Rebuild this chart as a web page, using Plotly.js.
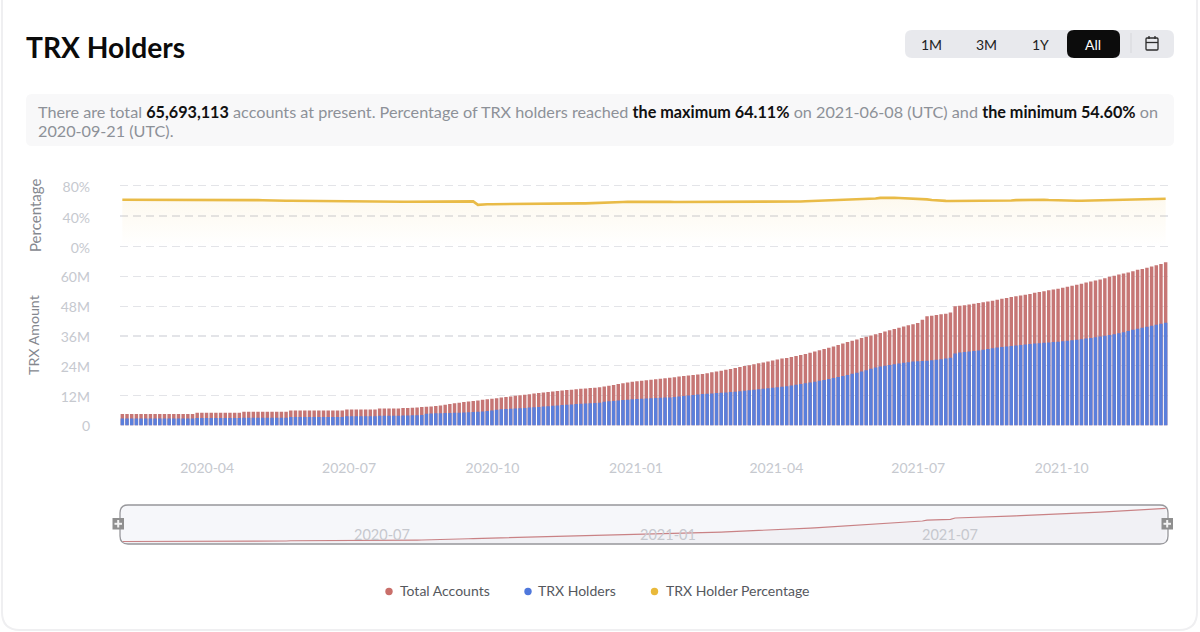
<!DOCTYPE html>
<html><head><meta charset="utf-8">
<script src="https://cdn.plot.ly/plotly-3.0.1.min.js"></script>
<style>html,body{margin:0;padding:0;background:#fff;overflow:hidden}#c{width:1200px;height:632px}</style>
</head><body><div id="c"></div>
<script>
const firstDate = '2020-02-06';
const stepDays = 3;
const totalAccounts = [
4.6,4.6,4.6,4.6,4.6,4.6,4.6,4.6,4.6,4.6,4.6,4.6,4.6,4.6,4.6,4.6,
5.1,5.1,5.1,5.1,5.1,5.1,5.1,5.1,5.1,5.1,
5.5,5.5,5.5,5.5,5.5,5.5,5.5,5.5,5.5,5.5,
6.0,6.0,6.0,6.0,6.0,6.0,6.0,6.0,6.0,6.0,6.0,6.0,
6.4,6.4,6.4,6.4,6.4,6.4,6.4,
6.8,6.8,6.8,6.8,6.8,
7.0,7.0,7.1,7.2,7.4,7.5,7.6,7.8,
8.0,8.3,8.6,8.9,9.2,9.5,
9.7,9.9,10.1,10.4,
10.6,10.8,11.0,11.3,
11.5,11.7,12.0,12.2,12.4,12.6,12.9,
13.1,13.3,13.5,13.7,13.9,14.1,14.3,
14.4,14.6,14.8,14.9,15.1,15.2,15.4,
15.7,16.0,16.3,16.7,17.0,17.3,17.6,
17.8,18.0,18.2,18.4,18.6,18.8,19.0,
19.2,19.4,19.7,19.9,20.1,20.3,20.5,20.7,
21.0,21.4,21.7,22.0,22.4,22.7,23.1,
23.5,23.9,24.2,24.6,25.0,25.3,25.7,
26.1,26.5,26.9,27.2,27.6,28.0,28.4,
28.8,29.3,29.8,30.3,30.8,31.3,31.8,
32.4,33.0,33.6,34.1,34.6,35.2,35.7,36.2,
36.7,37.2,37.8,38.3,38.8,39.3,39.8,40.3,40.7,
41.2,42.5,43.9,
44.1,44.4,44.7,45.0,45.5,
48.0,
48.2,48.4,48.7,49.0,49.3,49.6,49.9,50.2,50.6,
51.0,
51.3,51.7,52.0,52.3,52.6,52.9,53.4,
53.7,54.0,54.4,54.7,55.0,55.4,55.8,
56.2,56.6,57.0,57.5,57.9,58.3,58.7,
59.2,59.8,60.2,60.7,61.1,61.5,62.0,
62.6,63.0,63.5,64.0,64.5,65.0,65.69];
const trxHolders = [
2.8,2.8,2.8,2.8,2.8,2.8,2.8,2.8,2.8,2.8,2.8,2.8,2.8,2.8,2.8,2.8,
3.0,3.0,3.0,3.0,3.0,3.0,3.0,3.0,3.0,3.0,
3.1,3.1,3.1,3.1,3.1,3.1,3.1,3.1,3.1,3.1,
3.4,3.4,3.4,3.4,3.4,3.4,3.4,3.4,3.4,3.4,3.4,3.4,
3.7,3.7,3.7,3.7,3.7,3.7,3.7,
3.9,3.9,3.9,3.9,3.9,
4.0,4.0,4.1,4.1,4.2,4.7,4.8,4.9,
4.9,5.0,5.0,5.1,5.1,5.2,5.3,
5.4,5.5,5.6,5.8,6.0,6.3,6.5,
6.6,6.7,6.8,6.9,7.0,7.2,7.3,
7.4,7.6,7.7,7.9,8.0,8.2,8.3,
8.4,8.6,8.7,8.8,9.0,9.1,9.2,
9.6,9.8,9.9,10.1,10.3,10.4,10.6,
10.7,10.8,10.9,11.0,11.1,11.2,11.3,
11.3,11.5,11.7,11.9,12.1,12.3,12.5,12.7,
12.8,12.9,13.1,13.2,13.3,13.5,13.6,
13.8,14.0,14.2,14.4,14.6,14.8,15.0,
15.2,15.4,15.6,15.8,16.1,16.4,16.7,
17.0,17.3,17.6,18.0,18.3,18.7,19.1,
19.5,19.9,20.3,20.8,21.2,21.7,22.2,22.8,
23.3,23.7,24.0,24.3,24.6,24.9,25.2,25.4,25.7,
25.8,25.9,26.0,
26.2,26.4,26.6,26.9,27.3,
29.0,
29.4,29.6,29.8,30.0,30.2,30.5,30.8,31.1,31.4,
31.6,
31.8,32.0,32.2,32.4,32.6,32.8,33.0,
33.1,33.3,33.4,33.6,33.7,33.9,34.1,
34.3,34.5,34.7,35.0,35.2,35.5,35.8,
36.1,36.4,36.7,37.1,37.5,38.0,38.5,
38.9,39.3,39.7,40.1,40.5,40.9,41.3];
const holderPercent = [
61.4,61.4,61.4,61.3,61.3,61.3,61.3,61.2,61.2,61.2,61.2,61.1,61.1,61.1,61.0,61.0,61.0,61.0,60.9,60.9,60.9,61.0,61.1,61.3,61.5,
61.6,61.4,61.2,61.0,60.8,60.6,60.3,60.1,60.2,60.1,60.0,
60.0,59.9,59.9,59.8,59.8,59.7,59.7,59.6,59.6,59.5,59.4,59.4,
59.3,59.3,59.2,59.1,59.0,59.0,58.9,58.9,58.9,58.8,58.8,58.8,
58.7,58.7,58.8,58.9,59.0,59.1,59.2,59.3,59.2,59.1,59.0,58.9,58.9,59.0,59.1,59.2,
54.6,
55.3,55.4,55.5,55.6,55.6,55.7,55.8,55.8,55.9,56.0,56.0,56.0,56.1,56.1,
56.2,56.2,56.3,56.3,56.4,56.4,56.5,56.5,56.6,56.7,56.8,57.0,
57.3,57.6,57.9,58.2,58.4,58.6,58.7,58.8,
58.9,59.0,59.0,59.0,58.9,58.7,58.5,58.4,58.4,58.4,58.4,58.4,58.5,58.5,
58.5,58.5,58.4,58.4,58.3,58.2,58.2,58.2,58.2,58.2,58.3,58.3,58.4,58.5,
58.6,58.7,58.8,58.9,59.0,59.0,59.1,59.3,59.5,59.7,59.9,60.1,60.3,60.5,
60.7,60.9,61.1,61.3,61.5,61.7,61.9,62.2,62.9,63.8,64.11,64.0,63.8,63.6,63.4,63.2,63.1,
63.0,62.5,61.8,61.0,60.4,60.0,59.8,59.6,59.6,
59.6,59.5,59.5,59.6,59.8,60.0,60.1,60.2,60.3,60.3,60.4,60.4,
60.8,61.0,61.1,61.2,61.3,61.5,61.3,61.0,60.7,60.4,
60.2,60.0,60.0,60.1,60.1,60.2,60.3,60.4,60.5,60.6,60.8,60.9,
61.0,61.2,61.3,61.5,61.7,61.9,62.0,62.2,62.4,62.5,62.7];
const amountTicks = [0,12,24,36,48,60];
const amountLabels = ['0','12M','24M','36M','48M','60M'];
const percentTicks = [0,40,80];
const percentLabels = ['0%','40%','80%'];
const sliderLabels = ['2020-07','2021-01','2021-07'];
const rangeLabels = ['1M','3M','1Y','All'];
const seriesNames = ['Total Accounts','TRX Holders','TRX Holder Percentage'];

const RED='#c67675', BLUE='#5a7fdc', GOLD='#e9bb47', FONT='Lato, sans-serif';
const W=1200,H=632, fx=x=>x/W, fy=y=>1-y/H;
const dates = totalAccounts.map((_,i)=>new Date(Date.parse(firstDate+'T00:00:00Z')+i*stepDays*864e5).toISOString().slice(0,10));

function rr(x0,y0,x1,y1,r){
  const p=(x,y)=>fx(x)+','+fy(y);
  return 'M'+p(x0+r,y0)+'L'+p(x1-r,y0)+'Q'+p(x1,y0)+' '+p(x1,y0+r)+'L'+p(x1,y1-r)+'Q'+p(x1,y1)+' '+p(x1-r,y1)+
         'L'+p(x0+r,y1)+'Q'+p(x0,y1)+' '+p(x0,y1-r)+'L'+p(x0,y0+r)+'Q'+p(x0,y0)+' '+p(x0+r,y0)+'Z';
}
function box(x0,y0,x1,y1,r,fill,line,lw,layer){
  return {type:'path',xref:'paper',yref:'paper',path:rr(x0,y0,x1,y1,r),fillcolor:fill,line:{color:line||'rgba(0,0,0,0)',width:lw||0},layer:layer||'below'};
}
function seg(x0,y0,x1,y1,c,w){
  return {type:'line',xref:'paper',yref:'paper',x0:fx(x0),x1:fx(x1),y0:fy(y0),y1:fy(y1),line:{color:c,width:w},layer:'above'};
}
function dot(x,y,c){
  return {type:'circle',xref:'paper',yref:'paper',x0:fx(x-3.7),x1:fx(x+3.7),y0:fy(y+3.7),y1:fy(y-3.7),fillcolor:c,line:{width:0},layer:'above'};
}
function note(x,y,text,size,color,extra){
  return Object.assign({xref:'paper',yref:'paper',x:fx(x),y:fy(y),text,showarrow:false,font:{family:FONT,size,color},xanchor:'center',yanchor:'middle',borderpad:0},extra||{});
}
const B=t=>'<b style="color:#111">'+t+'</b>';

const traces=[
 {type:'bar',x:dates,y:totalAccounts,name:seriesNames[0],marker:{color:RED,line:{width:0}},xaxis:'x',yaxis:'y'},
 {type:'bar',x:dates,y:trxHolders,name:seriesNames[1],marker:{color:BLUE,line:{width:0}},xaxis:'x',yaxis:'y'},
 {type:'scatter',mode:'lines',x:dates,y:holderPercent,name:seriesNames[2],line:{color:GOLD,width:2.6},xaxis:'x',yaxis:'y2',
  fill:'tozeroy',fillgradient:{type:'vertical',start:60,stop:0,colorscale:[[0,'rgba(235,185,62,0.08)'],[1,'rgba(235,185,62,0.0)']]}},
 {type:'scatter',mode:'lines',x:dates,y:totalAccounts,line:{color:'#c98285',width:1.2},fill:'tozeroy',fillcolor:'rgba(120,90,100,0.035)',xaxis:'x2',yaxis:'y3',hoverinfo:'skip'}
];

const xr=['2020-02-04 12:00','2021-12-07 12:00'];
const tickFont={family:FONT,size:14,color:'#c6c9cf'};
const GRID='#e3e4e8';
const pxPct=61/80;
const layout={
 width:W,height:H,margin:{l:0,r:0,t:0,b:0},paper_bgcolor:'#fff',plot_bgcolor:'rgba(0,0,0,0)',
 showlegend:false,barmode:'overlay',bargap:0.26,
 title:{text:'TRX Holders',x:fx(26),xref:'paper',xanchor:'left',y:fy(48),yref:'paper',yanchor:'middle',font:{family:FONT,size:28.2,color:'#0b0b0b',weight:700}},
 xaxis:{domain:[fx(120),fx(1168)],range:xr,type:'date',anchor:'y',tick0:'2020-01-01',dtick:'M3',tickformat:'%Y-%m',tickfont:tickFont,ticklabelstandoff:32,ticklabelshift:-1,showgrid:false,zeroline:false,showline:false,ticks:''},
 yaxis:{domain:[fy(425.5),fy(246.5)],range:[0,72],anchor:'x',tickmode:'array',tickvals:amountTicks,ticktext:amountLabels,tickfont:tickFont,ticklabelstandoff:29,ticklabelshift:1,showgrid:true,gridcolor:GRID,griddash:'8px,5px',gridwidth:1.1,zeroline:false,showline:false,ticks:''},
 yaxis2:{domain:[fy(246.5+2*pxPct),fy(185.5-2*pxPct)],range:[-2,82],anchor:'x',tickmode:'array',tickvals:percentTicks,ticktext:percentLabels,tickfont:tickFont,ticklabelstandoff:29,ticklabelshift:2,showgrid:true,gridcolor:GRID,griddash:'8px,5px',gridwidth:1.1,zeroline:false,showline:false,ticks:''},
 xaxis2:{domain:[fx(120),fx(1168)],range:xr,type:'date',anchor:'y3',showticklabels:false,showgrid:false,zeroline:false,showline:false,ticks:''},
 yaxis3:{domain:[fy(544),fy(505)],range:[0,72],anchor:'x2',showticklabels:false,showgrid:false,zeroline:false,showline:false,ticks:''},
 shapes:[
  box(2,-30,1197,630,18,'rgba(0,0,0,0)','#efeff1',2),
  box(26,94,1174,146,6,'#f8f8f9'),
  box(905,30,1174,58,7,'#e8e9ed'),
  box(1067,30,1120,58,7,'#0c0c0c'),
  seg(1131,33,1131,53,'#d6d7db',1),
  box(1146,38,1158,50,1,'rgba(0,0,0,0)','#2c2c2c',1.3,'above'),
  seg(1146,42.5,1158,42.5,'#2c2c2c',1.3),
  seg(1149,36,1149,39,'#2c2c2c',1.3),
  seg(1155,36,1155,39,'#2c2c2c',1.3),
  box(120,505,1168,544,8,'#f6f7fa'),
  box(120,505,1168,544,8,'rgba(0,0,0,0)','#97979b',1.3,'above'),
  box(112.5,518,124,529.5,0,'#8f8f8f',null,0,'above'),
  seg(118.2,520,118.2,527.5,'#f2f2f2',2),
  seg(114.5,523.8,122,523.8,'#f2f2f2',2),
  box(1161.5,518,1173,529.5,0,'#8f8f8f',null,0,'above'),
  seg(1167.2,520,1167.2,527.5,'#f2f2f2',2),
  seg(1163.5,523.8,1171,523.8,'#f2f2f2',2),
  dot(389,591.5,'#c96f6a'),
  dot(528,591.5,'#4f78dc'),
  dot(654.5,591.5,'#e9b93a')
 ],
 annotations:[
  note(36.5,111,'There are total '+B('65,693,113')+' accounts at present. Percentage of TRX holders reached '+B('the maximum 64.11%')+' on 2021-06-08 (UTC) and '+B('the minimum 54.60%')+' on',16.2,'#8d9198',{xanchor:'left',align:'left'}),
  note(36.5,130,'2020-09-21 (UTC).',16.2,'#8d9198',{xanchor:'left',align:'left'}),
  note(932,44,rangeLabels[0],14,'#222'),
  note(986,44,rangeLabels[1],14,'#222'),
  note(1040,44,rangeLabels[2],14,'#222'),
  note(1093,44,rangeLabels[3],14,'#fff'),
  note(35,216,'Percentage',15,'#85888f',{textangle:-90}),
  note(33,335,'TRX Amount',14.2,'#85888f',{textangle:-90}),
  note(382,534,sliderLabels[0],14.5,'#c6c8ce'),
  note(668,534,sliderLabels[1],14.5,'#c6c8ce'),
  note(950,534,sliderLabels[2],14.5,'#c6c8ce'),
  note(398.5,590.5,seriesNames[0],14,'#55585e',{xanchor:'left'}),
  note(537,590.5,seriesNames[1],14,'#55585e',{xanchor:'left'}),
  note(664.5,590.5,seriesNames[2],14,'#55585e',{xanchor:'left'})
 ]
};
Plotly.newPlot('c',traces,layout,{displayModeBar:false,staticPlot:true});
</script></body></html>
